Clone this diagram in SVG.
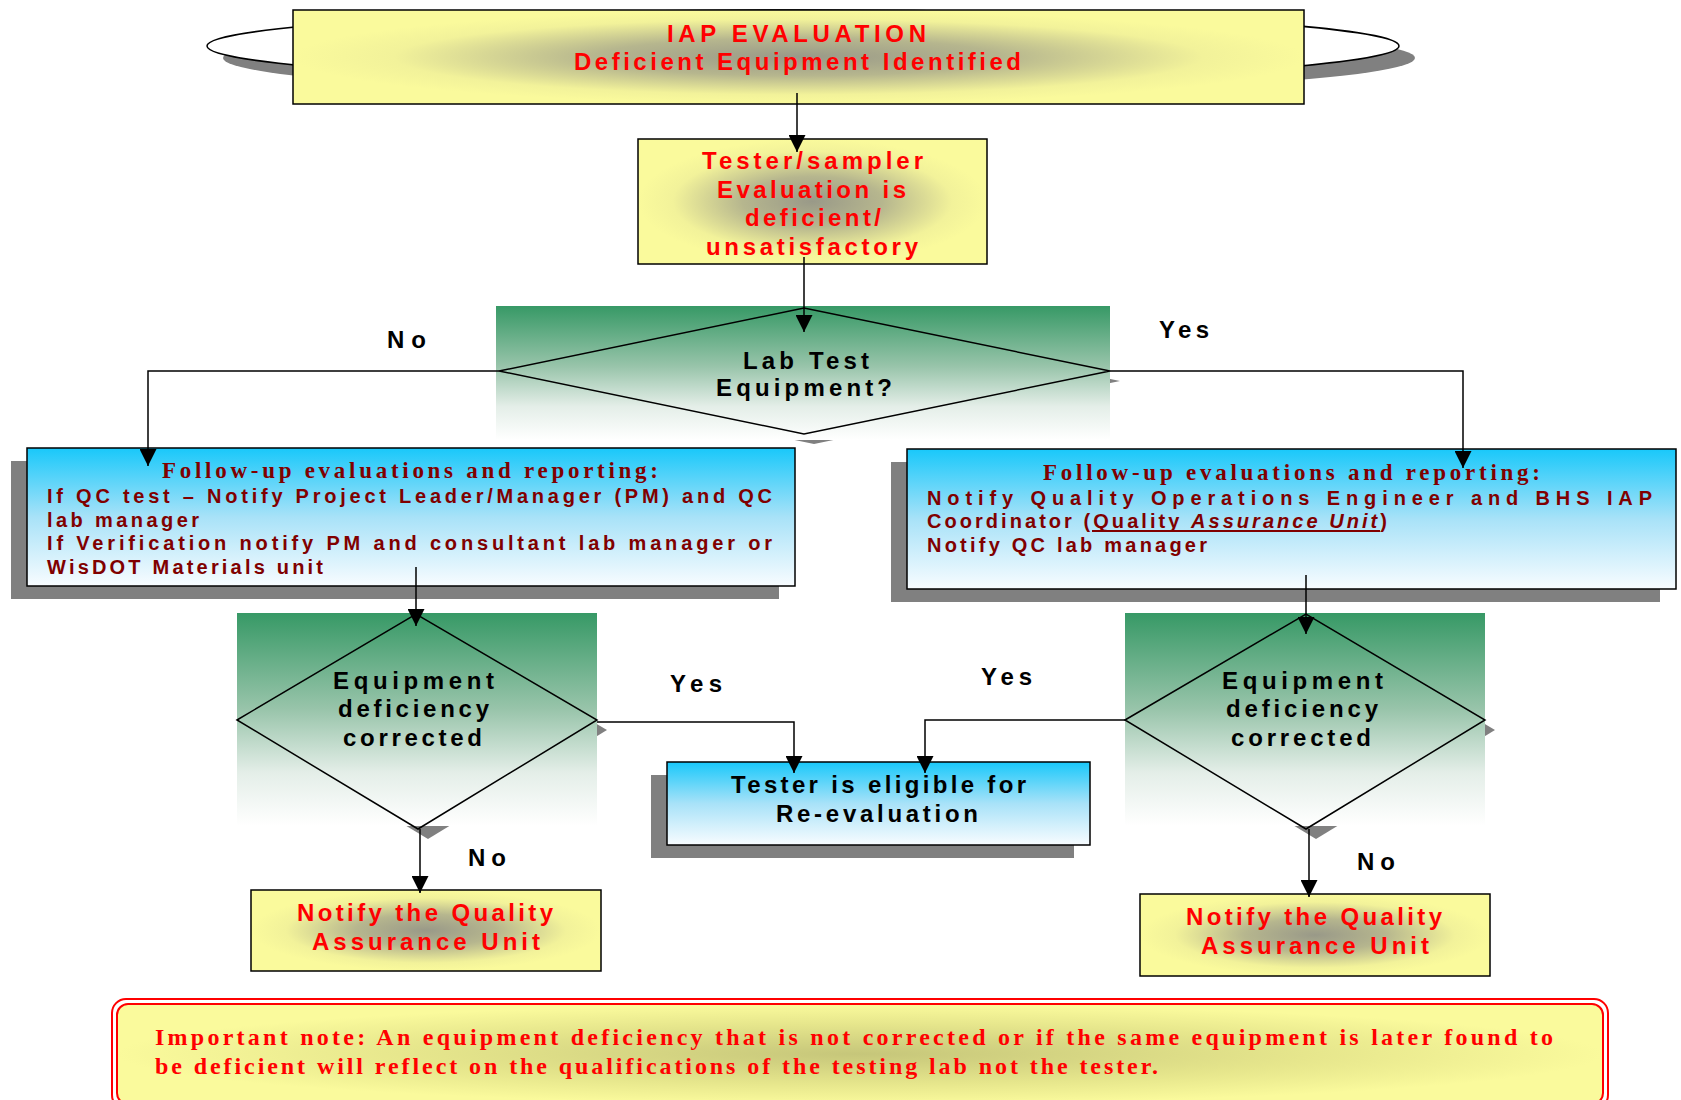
<svg xmlns="http://www.w3.org/2000/svg" width="1681" height="1100" viewBox="0 0 1681 1100">
<defs>
<style>
.sans{font-family:"Liberation Sans",Arial,sans-serif;font-weight:bold}
.serif{font-family:"Liberation Serif","Times New Roman",serif;font-weight:bold}
.red{fill:#ff0000}
.dred{fill:#800000}
.blk{fill:#000000}
.box{stroke:#000;stroke-width:1.5}
.shadow{fill:#808080}
.conn{fill:none;stroke:#000;stroke-width:1.5}
</style>
<radialGradient id="yg" cx="0.5" cy="0.5" r="0.5">
<stop offset="0" stop-color="#999988"/>
<stop offset="0.4" stop-color="#b6b68e"/>
<stop offset="0.8" stop-color="#f2f29a"/>
<stop offset="1" stop-color="#fafa9c"/>
</radialGradient>
<radialGradient id="ng" cx="0.5" cy="0.5" r="0.5">
<stop offset="0" stop-color="#c6c67a"/>
<stop offset="0.6" stop-color="#e6e68c"/>
<stop offset="1" stop-color="#fafa9c"/>
</radialGradient>
<linearGradient id="gg" x1="0" y1="0" x2="0" y2="1">
<stop offset="0" stop-color="#379966"/>
<stop offset="0.45" stop-color="#98c4aa"/>
<stop offset="0.75" stop-color="#e4eee8"/>
<stop offset="1" stop-color="#ffffff"/>
</linearGradient>
<linearGradient id="bg" x1="0" y1="0" x2="0" y2="1">
<stop offset="0" stop-color="#19c8fa"/>
<stop offset="0.5" stop-color="#a8e2f8"/>
<stop offset="1" stop-color="#f8fcff"/>
</linearGradient>
<marker id="arr" viewBox="0 0 10 10" refX="10" refY="5" markerWidth="17" markerHeight="17" markerUnits="userSpaceOnUse" orient="auto">
<path d="M0,0 L10,5 L0,10 z" fill="#000"/>
</marker>
</defs>
<rect width="1681" height="1100" fill="#ffffff"/>

<g id="start">
<ellipse cx="819" cy="58" rx="596" ry="37" class="shadow"/>
<ellipse cx="803" cy="46" rx="596" ry="36" fill="#ffffff" stroke="#000" stroke-width="1.5"/>
<rect x="293" y="10" width="1011" height="94" fill="url(#yg)" class="box"/>
<text x="667" y="42" class="sans red" font-size="24" textLength="259" lengthAdjust="spacing">IAP EVALUATION</text>
<text x="574" y="70" class="sans red" font-size="24" textLength="447" lengthAdjust="spacing">Deficient Equipment Identified</text>
</g>

<g id="tester-eval">
<rect x="638" y="139" width="349" height="125" fill="url(#yg)" class="box"/>
<text x="702" y="169" class="sans red" font-size="24" textLength="221" lengthAdjust="spacing">Tester/sampler</text>
<text x="717" y="198" class="sans red" font-size="24" textLength="189" lengthAdjust="spacing">Evaluation is</text>
<text x="745" y="226" class="sans red" font-size="24" textLength="136" lengthAdjust="spacing">deficient/</text>
<svg x="638" y="139" width="349" height="121" overflow="hidden"><text x="68" y="116" class="sans red" font-size="24" textLength="212" lengthAdjust="spacing">unsatisfactory</text></svg>
</g>

<g id="lab-test">
<path d="M509,381 L814,318 L1120,381 L814,444 z" class="shadow"/>
<rect x="496" y="306" width="614" height="134" fill="url(#gg)"/>
<path d="M499,371 L804,308 L1110,371 L804,434 z" fill="none" stroke="#000" stroke-width="1.5"/>
<text x="743" y="369" class="sans blk" font-size="24" textLength="126" lengthAdjust="spacing">Lab Test</text>
<text x="716" y="396" class="sans blk" font-size="24" textLength="176" lengthAdjust="spacing">Equipment?</text>
</g>

<g id="followup-left">
<rect x="11" y="461" width="768" height="138" class="shadow"/>
<rect x="27" y="448" width="768" height="138" fill="url(#bg)" class="box"/>
<text x="162" y="478" class="serif dred" font-size="23" textLength="496" lengthAdjust="spacing">Follow-up evaluations and reporting:</text>
<text x="47" y="503" class="sans dred" font-size="20" textLength="725" lengthAdjust="spacing">If QC test – Notify Project Leader/Manager (PM) and QC</text>
<text x="47" y="527" class="sans dred" font-size="20" textLength="152" lengthAdjust="spacing">lab manager</text>
<text x="47" y="550" class="sans dred" font-size="20" textLength="725" lengthAdjust="spacing">If Verification notify PM and consultant lab manager or</text>
<text x="47" y="574" class="sans dred" font-size="20" textLength="276" lengthAdjust="spacing">WisDOT Materials unit</text>
</g>

<g id="followup-right">
<rect x="891" y="462" width="769" height="140" class="shadow"/>
<rect x="907" y="449" width="769" height="140" fill="url(#bg)" class="box"/>
<text x="1043" y="480" class="serif dred" font-size="23" textLength="497" lengthAdjust="spacing">Follow-up evaluations and reporting:</text>
<text x="927" y="505" class="sans dred" font-size="20" textLength="725" lengthAdjust="spacing">Notify Quality Operations Engineer and BHS IAP</text>
<text x="927" y="528" class="sans dred" font-size="20" textLength="460" lengthAdjust="spacing">Coordinator (Quality <tspan font-style="italic">Assurance Unit</tspan>)</text>
<rect x="1092" y="530" width="288" height="2" fill="#800000"/>
<text x="927" y="552" class="sans dred" font-size="20" textLength="280" lengthAdjust="spacing">Notify QC lab manager</text>
</g>

<g id="corrected-left">
<path d="M247,730 L426,624 L607,730 L428,839 z" class="shadow"/>
<rect x="237" y="613" width="360" height="213" fill="url(#gg)"/>
<path d="M237,720 L416,614 L597,720 L418,829 z" fill="none" stroke="#000" stroke-width="1.5"/>
<text x="333" y="689" class="sans blk" font-size="24" textLength="161" lengthAdjust="spacing">Equipment</text>
<text x="338" y="717" class="sans blk" font-size="24" textLength="151" lengthAdjust="spacing">deficiency</text>
<text x="343" y="746" class="sans blk" font-size="24" textLength="139" lengthAdjust="spacing">corrected</text>
</g>

<g id="corrected-right">
<path d="M1135,730 L1316,624 L1495,730 L1316,839 z" class="shadow"/>
<rect x="1125" y="613" width="360" height="213" fill="url(#gg)"/>
<path d="M1125,720 L1306,614 L1485,720 L1306,829 z" fill="none" stroke="#000" stroke-width="1.5"/>
<text x="1222" y="689" class="sans blk" font-size="24" textLength="161" lengthAdjust="spacing">Equipment</text>
<text x="1226" y="717" class="sans blk" font-size="24" textLength="152" lengthAdjust="spacing">deficiency</text>
<text x="1231" y="746" class="sans blk" font-size="24" textLength="140" lengthAdjust="spacing">corrected</text>
</g>

<g id="eligible">
<rect x="651" y="775" width="423" height="83" class="shadow"/>
<rect x="667" y="762" width="423" height="83" fill="url(#bg)" class="box"/>
<text x="731" y="793" class="sans blk" font-size="24" textLength="295" lengthAdjust="spacing">Tester is eligible for</text>
<text x="776" y="822" class="sans blk" font-size="24" textLength="202" lengthAdjust="spacing">Re-evaluation</text>
</g>

<g id="notify-left">
<rect x="251" y="890" width="350" height="81" fill="url(#yg)" class="box"/>
<text x="297" y="921" class="sans red" font-size="24" textLength="256" lengthAdjust="spacing">Notify the Quality</text>
<text x="312" y="950" class="sans red" font-size="24" textLength="228" lengthAdjust="spacing">Assurance Unit</text>
</g>

<g id="notify-right">
<rect x="1140" y="894" width="350" height="82" fill="url(#yg)" class="box"/>
<text x="1186" y="925" class="sans red" font-size="24" textLength="256" lengthAdjust="spacing">Notify the Quality</text>
<text x="1201" y="954" class="sans red" font-size="24" textLength="228" lengthAdjust="spacing">Assurance Unit</text>
</g>

<g id="note">
<rect x="112" y="999" width="1496" height="110" rx="14" fill="#ffffff" stroke="#ff0000" stroke-width="2"/>
<rect x="117" y="1004" width="1486" height="100" rx="11" fill="url(#ng)" stroke="#ff0000" stroke-width="2"/>
<text x="155" y="1045" class="serif red" font-size="24" textLength="1398" lengthAdjust="spacing">Important note:  An equipment deficiency that is not corrected or if the same equipment is later found to</text>
<text x="155" y="1074" class="serif red" font-size="24" textLength="1003" lengthAdjust="spacing">be deficient will reflect on the qualifications of the testing lab not the tester.</text>
</g>

<g id="connectors">
<path d="M797,93 L797,152" class="conn" marker-end="url(#arr)"/>
<path d="M804,257 L804,332" class="conn" marker-end="url(#arr)"/>
<path d="M499,371 L148,371 L148,466" class="conn" marker-end="url(#arr)"/>
<path d="M1110,371 L1463,371 L1463,468" class="conn" marker-end="url(#arr)"/>
<path d="M416,567 L416,626" class="conn" marker-end="url(#arr)"/>
<path d="M1306,575 L1306,634" class="conn" marker-end="url(#arr)"/>
<path d="M597,722 L794,722 L794,773" class="conn" marker-end="url(#arr)"/>
<path d="M1125,720 L925,720 L925,773" class="conn" marker-end="url(#arr)"/>
<path d="M420,829 L420,893" class="conn" marker-end="url(#arr)"/>
<path d="M1309,829 L1309,897" class="conn" marker-end="url(#arr)"/>
</g>

<g id="labels">
<text x="387" y="348" class="sans blk" font-size="24" textLength="39" lengthAdjust="spacing">No</text>
<text x="1159" y="338" class="sans blk" font-size="24" textLength="50" lengthAdjust="spacing">Yes</text>
<text x="670" y="692" class="sans blk" font-size="24" textLength="52" lengthAdjust="spacing">Yes</text>
<text x="981" y="685" class="sans blk" font-size="24" textLength="51" lengthAdjust="spacing">Yes</text>
<text x="468" y="866" class="sans blk" font-size="24" textLength="38" lengthAdjust="spacing">No</text>
<text x="1357" y="870" class="sans blk" font-size="24" textLength="38" lengthAdjust="spacing">No</text>
</g>
</svg>
